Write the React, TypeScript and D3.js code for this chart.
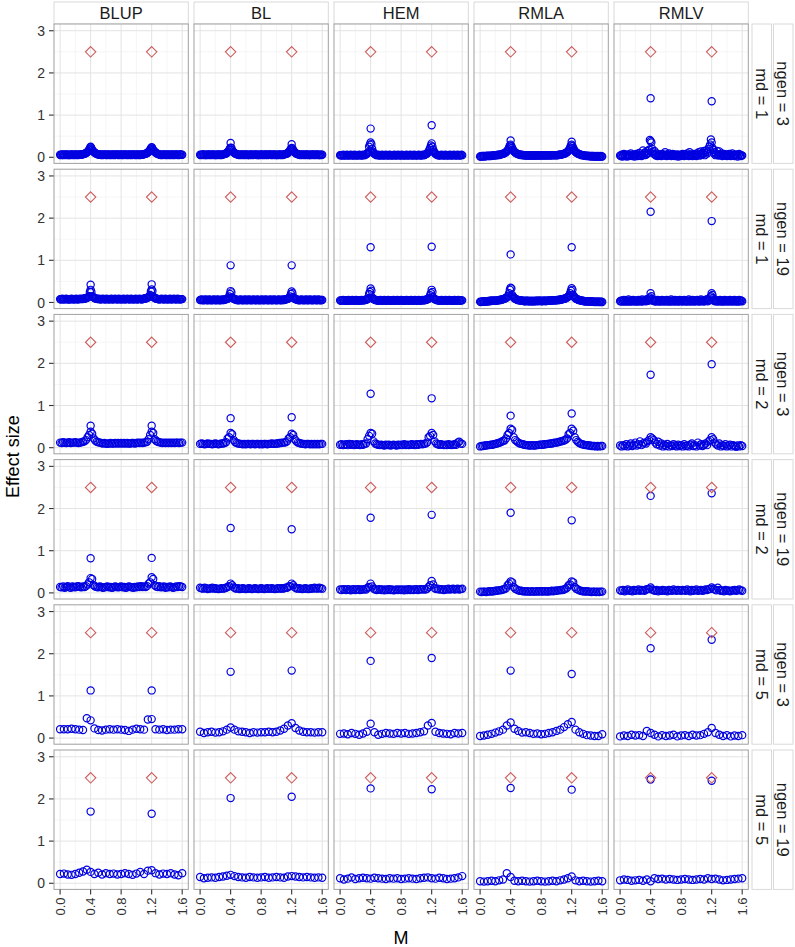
import { scaleBand, scaleLinear } from 'd3'

// marker effect estimates, in hundredths of a unit, one value per marker along M
// ngen = 3, md = 1 (markers every 0.01 M)
const blup_n3_md1 = [
  6, 5, 6, 7, 6, 5, 6, 6, 7, 6, 5, 6, 6, 5, 6, 7, 6, 6, 5, 6,
  6, 7, 6, 5, 6, 6, 7, 6, 6, 7, 7, 8, 8, 9, 10, 11, 13, 15, 18, 21,
  24, 21, 18, 15, 13, 11, 10, 9, 8, 7, 7, 6, 6, 7, 6, 5, 6, 6, 7, 6,
  6, 5, 6, 7, 6, 6, 5, 6, 6, 7, 6, 5, 6, 6, 7, 6, 6, 5, 6, 6,
  7, 6, 5, 6, 6, 7, 6, 6, 5, 6, 6, 7, 6, 5, 6, 6, 7, 6, 6, 5,
  6, 6, 7, 6, 5, 6, 6, 7, 6, 7, 7, 8, 8, 9, 10, 11, 13, 15, 18, 21,
  23, 20, 17, 15, 13, 11, 10, 9, 8, 7, 7, 6, 6, 5, 6, 6, 7, 6, 6, 5,
  6, 7, 6, 6, 5, 6, 6, 7, 6, 5, 6, 6, 7, 6, 6, 5, 6, 7, 6, 6,
  6,
]
const bl_n3_md1 = [
  6, 5, 6, 6, 7, 6, 5, 6, 6, 5, 6, 7, 6, 6, 5, 6, 6, 7, 6, 5,
  6, 6, 5, 6, 7, 6, 6, 5, 6, 6, 7, 7, 8, 8, 9, 10, 12, 14, 17, 20,
  23, 22, 17, 14, 12, 10, 9, 8, 7, 7, 6, 6, 5, 6, 6, 7, 6, 5, 6, 6,
  7, 6, 5, 6, 6, 5, 6, 7, 6, 6, 5, 6, 6, 7, 6, 5, 6, 6, 5, 6,
  7, 6, 6, 5, 6, 6, 7, 6, 5, 6, 6, 7, 6, 6, 5, 6, 6, 7, 6, 5,
  6, 6, 5, 6, 7, 6, 6, 5, 6, 6, 7, 7, 8, 8, 9, 10, 12, 14, 17, 20,
  22, 21, 17, 14, 12, 10, 9, 8, 7, 7, 6, 6, 5, 6, 6, 7, 6, 5, 6, 6,
  7, 6, 5, 6, 6, 5, 6, 7, 6, 6, 5, 6, 6, 7, 6, 5, 6, 6, 5, 6,
  6,
]
const hem_n3_md1 = [
  5, 5, 4, 5, 6, 5, 4, 5, 5, 6, 5, 4, 5, 5, 6, 5, 5, 4, 5, 6,
  5, 5, 4, 5, 5, 6, 5, 5, 4, 5, 6, 5, 5, 6, 7, 8, 10, 12, 25, 30,
  35, 31, 20, 13, 10, 8, 7, 6, 5, 5, 6, 5, 4, 5, 5, 6, 5, 4, 5, 5,
  6, 5, 5, 4, 5, 6, 5, 5, 4, 5, 5, 6, 5, 4, 5, 5, 6, 5, 5, 4,
  5, 6, 5, 5, 4, 5, 5, 6, 5, 4, 5, 5, 6, 5, 5, 4, 5, 6, 5, 5,
  4, 5, 5, 6, 5, 5, 4, 5, 6, 5, 5, 6, 7, 8, 9, 11, 14, 18, 22, 28,
  33, 25, 18, 13, 10, 8, 7, 6, 5, 5, 4, 5, 5, 6, 5, 5, 4, 5, 6, 5,
  5, 4, 5, 5, 6, 5, 4, 5, 5, 6, 5, 5, 4, 5, 6, 5, 5, 4, 5, 6,
  5,
]
const rmla_n3_md1 = [
  2, 2, 3, 2, 3, 3, 2, 3, 3, 3, 4, 3, 3, 4, 3, 4, 4, 4, 5, 4,
  5, 5, 5, 6, 5, 6, 6, 7, 7, 8, 8, 9, 10, 11, 12, 14, 16, 19, 23, 28,
  30, 26, 22, 18, 15, 13, 11, 10, 9, 8, 7, 7, 6, 6, 5, 6, 5, 5, 5, 4,
  5, 4, 5, 4, 4, 5, 4, 4, 5, 4, 4, 5, 4, 4, 5, 4, 5, 4, 5, 5,
  4, 5, 4, 5, 5, 4, 5, 5, 4, 5, 5, 5, 4, 5, 5, 5, 5, 5, 5, 5,
  5, 5, 5, 6, 6, 6, 6, 7, 7, 8, 8, 9, 10, 11, 12, 14, 16, 19, 23, 28,
  30, 26, 22, 18, 15, 13, 11, 10, 9, 8, 7, 7, 6, 5, 5, 5, 4, 4, 4, 3,
  4, 3, 3, 3, 3, 2, 3, 3, 2, 3, 2, 2, 3, 2, 2, 3, 2, 2, 3, 2,
  2,
]
const rmlv_n3_md1 = [
  4, 3, 6, 2, 5, 8, 3, 4, 6, 2, 5, 7, 3, 4, 9, 5, 3, 6, 4, 2,
  5, 8, 4, 3, 6, 10, 4, 5, 3, 7, 16, 9, 5, 12, 6, 8, 15, 10, 18, 41,
  38, 35, 20, 12, 8, 15, 6, 4, 9, 3, 5, 7, 4, 6, 3, 8, 5, 4, 6, 12,
  4, 3, 7, 5, 9, 4, 6, 3, 5, 8, 4, 6, 3, 5, 7, 4, 2, 6, 5, 3,
  6, 4, 8, 5, 3, 7, 4, 6, 9, 5, 3, 12, 6, 4, 7, 3, 5, 8, 4, 6,
  3, 9, 5, 12, 7, 4, 14, 6, 10, 8, 15, 5, 11, 16, 9, 13, 20, 25, 30, 42,
  35, 22, 18, 9, 12, 5, 8, 15, 6, 4, 14, 7, 5, 9, 3, 6, 8, 4, 5, 7,
  3, 6, 4, 8, 5, 3, 6, 9, 4, 5, 3, 7, 4, 6, 2, 5, 8, 4, 3, 5,
  4,
]

// ngen = 19, md = 1
const blup_n19_md1 = [
  8, 7, 8, 9, 8, 7, 8, 8, 9, 8, 7, 8, 8, 7, 8, 9, 8, 8, 7, 8,
  8, 9, 8, 7, 8, 8, 9, 8, 8, 9, 8, 9, 9, 10, 10, 11, 12, 13, 15, 25,
  30, 25, 15, 13, 12, 11, 10, 9, 9, 8, 8, 9, 8, 7, 8, 8, 9, 8, 8, 7,
  8, 9, 8, 8, 7, 8, 8, 9, 8, 7, 8, 8, 9, 8, 8, 7, 8, 9, 8, 8,
  7, 8, 8, 9, 8, 7, 8, 8, 9, 8, 8, 7, 8, 9, 8, 8, 7, 8, 8, 9,
  8, 7, 8, 8, 9, 8, 8, 7, 8, 9, 9, 9, 10, 10, 11, 12, 13, 15, 18, 26,
  31, 27, 14, 12, 11, 10, 9, 9, 8, 8, 7, 8, 8, 9, 8, 8, 7, 8, 9, 8,
  8, 7, 8, 8, 9, 8, 7, 8, 8, 9, 8, 8, 7, 8, 9, 8, 8, 7, 8, 8,
  8,
]
const bl_n19_md1 = [
  6, 6, 7, 6, 5, 6, 6, 7, 6, 6, 5, 6, 7, 6, 6, 5, 6, 6, 7, 6,
  6, 5, 6, 7, 6, 6, 5, 6, 6, 7, 6, 6, 7, 7, 8, 8, 9, 10, 14, 20,
  27, 24, 12, 10, 9, 8, 7, 7, 6, 6, 5, 6, 6, 7, 6, 6, 5, 6, 6, 7,
  6, 5, 6, 6, 7, 6, 6, 5, 6, 6, 7, 6, 6, 5, 6, 7, 6, 6, 5, 6,
  6, 7, 6, 5, 6, 6, 7, 6, 6, 5, 6, 6, 7, 6, 5, 6, 6, 7, 6, 6,
  5, 6, 6, 7, 6, 6, 5, 6, 7, 6, 6, 7, 7, 8, 8, 9, 10, 11, 14, 20,
  26, 22, 13, 10, 9, 8, 7, 7, 6, 6, 5, 6, 6, 7, 6, 6, 5, 6, 6, 7,
  6, 5, 6, 6, 7, 6, 6, 5, 6, 6, 7, 6, 6, 5, 6, 7, 6, 6, 5, 6,
  6,
]
const hem_n19_md1 = [
  5, 4, 5, 5, 6, 5, 4, 5, 5, 4, 5, 6, 5, 4, 5, 5, 6, 5, 4, 5,
  5, 6, 5, 4, 5, 5, 4, 5, 6, 5, 5, 5, 6, 6, 7, 7, 8, 10, 20, 25,
  33, 28, 12, 9, 8, 7, 6, 6, 5, 5, 4, 5, 5, 6, 5, 4, 5, 5, 6, 5,
  4, 5, 5, 6, 5, 4, 5, 5, 4, 5, 6, 5, 4, 5, 5, 6, 5, 4, 5, 5,
  6, 5, 4, 5, 5, 4, 5, 6, 5, 5, 4, 5, 5, 6, 5, 4, 5, 5, 6, 5,
  4, 5, 5, 6, 5, 4, 5, 5, 6, 5, 5, 6, 6, 7, 7, 8, 9, 11, 17, 22,
  30, 25, 12, 9, 8, 7, 6, 6, 5, 5, 4, 5, 5, 6, 5, 4, 5, 5, 6, 5,
  4, 5, 5, 6, 5, 4, 5, 5, 4, 5, 6, 5, 4, 5, 5, 6, 5, 4, 5, 5,
  5,
]
const rmla_n19_md1 = [
  2, 1, 2, 2, 3, 2, 2, 3, 2, 3, 3, 3, 4, 3, 4, 4, 4, 4, 4, 4,
  4, 4, 5, 5, 5, 6, 6, 6, 7, 7, 8, 8, 9, 10, 11, 12, 14, 16, 22, 30,
  35, 33, 18, 14, 12, 10, 9, 8, 7, 6, 6, 5, 5, 5, 4, 4, 4, 4, 3, 3,
  4, 4, 3, 4, 3, 3, 4, 3, 3, 4, 3, 3, 4, 3, 4, 4, 3, 4, 4, 4,
  3, 4, 3, 4, 4, 4, 3, 4, 4, 4, 4, 5, 4, 4, 5, 5, 5, 5, 5, 5,
  5, 6, 6, 6, 6, 7, 7, 7, 8, 8, 9, 9, 10, 11, 12, 13, 15, 17, 22, 28,
  34, 30, 17, 14, 12, 10, 9, 8, 7, 6, 6, 5, 5, 4, 4, 4, 3, 3, 3, 3,
  3, 3, 2, 3, 2, 2, 3, 2, 2, 2, 1, 2, 2, 1, 2, 2, 1, 2, 1, 2,
  1,
]
const rmlv_n19_md1 = [
  3, 4, 2, 5, 3, 6, 2, 4, 3, 5, 2, 7, 3, 4, 2, 5, 3, 6, 4, 2,
  5, 3, 4, 2, 6, 3, 5, 4, 2, 7, 3, 5, 4, 6, 3, 8, 5, 4, 9, 12,
  22, 15, 8, 4, 6, 3, 5, 2, 4, 6, 3, 5, 2, 4, 3, 6, 4, 2, 5, 3,
  4, 6, 2, 5, 3, 4, 2, 7, 3, 5, 4, 2, 6, 3, 4, 5, 2, 3, 6, 4,
  3, 5, 2, 4, 6, 3, 5, 2, 4, 3, 7, 4, 2, 5, 3, 6, 4, 2, 5, 3,
  4, 6, 3, 5, 2, 4, 7, 3, 5, 4, 2, 6, 4, 5, 8, 3, 6, 5, 12, 15,
  22, 18, 10, 5, 3, 6, 4, 2, 5, 3, 4, 6, 2, 5, 3, 4, 2, 6, 3, 5,
  4, 2, 5, 3, 6, 4, 2, 5, 3, 4, 6, 2, 5, 3, 4, 2, 6, 3, 5, 4,
  3,
]

// ngen = 3, md = 2 (markers every 0.02 M)
const blup_n3_md2 = [
  12, 11, 13, 12, 11, 12, 13, 11, 12, 12, 13, 12, 11, 12, 13, 14, 15, 18, 25, 30,
  38, 33, 22, 17, 14, 13, 12, 11, 10, 11, 10, 9, 10, 11, 10, 10, 11, 10, 11, 10,
  11, 10, 11, 10, 11, 10, 10, 11, 11, 10, 11, 12, 11, 12, 11, 12, 13, 14, 20, 30,
  38, 35, 20, 16, 14, 13, 12, 11, 12, 11, 12, 11, 12, 11, 12, 11, 12, 12, 11, 12,
  12,
]
const bl_n3_md2 = [
  9, 10, 9, 8, 9, 10, 9, 9, 8, 9, 10, 9, 8, 9, 10, 10, 11, 13, 22, 25,
  35, 32, 18, 13, 11, 10, 9, 9, 8, 9, 8, 9, 9, 8, 9, 9, 8, 9, 9, 8,
  9, 8, 9, 9, 8, 9, 9, 10, 9, 9, 10, 10, 11, 11, 12, 12, 13, 15, 22, 25,
  33, 30, 20, 15, 12, 11, 10, 9, 9, 8, 9, 9, 8, 9, 8, 9, 8, 9, 8, 9,
  9,
]
const hem_n3_md2 = [
  7, 8, 6, 7, 8, 6, 9, 7, 8, 6, 7, 8, 7, 6, 8, 7, 9, 10, 20, 28,
  35, 33, 15, 10, 8, 7, 6, 7, 6, 5, 7, 6, 7, 5, 6, 7, 6, 5, 7, 6,
  7, 6, 8, 6, 7, 6, 7, 8, 7, 6, 8, 7, 8, 9, 8, 9, 10, 12, 25, 28,
  35, 30, 15, 10, 8, 7, 8, 7, 6, 7, 6, 8, 7, 6, 7, 8, 7, 12, 14, 10,
  9,
]
const rmla_n3_md2 = [
  3, 4, 4, 5, 5, 6, 6, 7, 7, 8, 9, 10, 11, 12, 14, 16, 17, 22, 30, 35,
  45, 42, 25, 18, 15, 12, 10, 9, 8, 7, 6, 6, 5, 5, 6, 5, 5, 6, 6, 7,
  7, 7, 8, 8, 9, 9, 10, 10, 11, 12, 12, 13, 14, 15, 16, 17, 19, 22, 32, 35,
  45, 40, 25, 18, 14, 11, 9, 8, 7, 6, 6, 5, 5, 4, 4, 4, 3, 4, 3, 4,
  4,
]
const rmlv_n3_md2 = [
  5, 3, 6, 4, 8, 3, 5, 10, 4, 7, 12, 5, 8, 15, 6, 10, 12, 10, 15, 18,
  25, 22, 18, 12, 8, 14, 5, 10, 3, 7, 4, 9, 3, 6, 4, 8, 5, 3, 7, 4,
  6, 3, 8, 4, 5, 3, 7, 10, 4, 6, 3, 12, 5, 8, 4, 7, 10, 6, 15, 18,
  25, 20, 12, 8, 5, 10, 3, 6, 4, 8, 3, 5, 7, 3, 6, 4, 2, 5, 3, 6,
  4,
]

// ngen = 19, md = 2
const blup_n19_md2 = [
  14, 13, 15, 12, 14, 16, 13, 12, 15, 14, 13, 15, 16, 14, 13, 15, 14, 16, 20, 25,
  35, 33, 18, 15, 14, 13, 15, 14, 12, 13, 14, 15, 13, 14, 12, 13, 15, 14, 13, 14,
  15, 13, 14, 12, 13, 15, 14, 13, 12, 14, 13, 15, 14, 16, 14, 15, 14, 16, 22, 25,
  37, 33, 18, 15, 14, 16, 13, 14, 15, 12, 14, 13, 15, 14, 12, 13, 15, 14, 16, 15,
  14,
]
const bl_n19_md2 = [
  12, 11, 10, 12, 11, 9, 10, 11, 12, 10, 11, 10, 9, 10, 11, 10, 11, 12, 14, 16,
  22, 18, 13, 11, 10, 11, 9, 10, 11, 10, 9, 10, 11, 10, 9, 10, 11, 10, 9, 10,
  11, 10, 9, 10, 11, 10, 10, 11, 10, 9, 10, 11, 10, 11, 10, 11, 12, 12, 15, 16,
  22, 18, 13, 11, 10, 11, 10, 9, 10, 11, 10, 9, 10, 11, 10, 12, 11, 10, 12, 11,
  10,
]
const hem_n19_md2 = [
  8, 7, 9, 8, 7, 9, 8, 6, 8, 9, 7, 8, 9, 7, 8, 8, 9, 8, 12, 14,
  22, 15, 10, 8, 7, 8, 9, 7, 8, 6, 8, 7, 9, 7, 8, 6, 7, 8, 7, 8,
  7, 8, 6, 8, 7, 9, 7, 8, 7, 8, 9, 7, 8, 9, 8, 9, 8, 10, 14, 18,
  28, 20, 11, 9, 10, 8, 9, 8, 7, 9, 8, 10, 8, 9, 10, 8, 9, 10, 8, 9,
  10,
]
const rmla_n19_md2 = [
  3, 2, 3, 3, 2, 3, 4, 3, 4, 4, 5, 5, 6, 6, 7, 8, 9, 11, 18, 22,
  27, 25, 14, 10, 8, 6, 5, 5, 4, 4, 3, 4, 3, 3, 4, 3, 3, 4, 3, 4,
  4, 3, 4, 4, 3, 4, 4, 5, 4, 5, 5, 6, 6, 7, 7, 8, 10, 12, 18, 20,
  27, 25, 14, 10, 8, 6, 5, 4, 4, 3, 4, 3, 3, 2, 3, 3, 2, 3, 2, 3,
  3,
]
const rmlv_n19_md2 = [
  6, 5, 7, 4, 6, 8, 5, 6, 4, 7, 5, 6, 8, 5, 7, 6, 5, 8, 9, 9,
  13, 8, 6, 5, 7, 4, 6, 5, 7, 5, 6, 4, 7, 6, 5, 8, 6, 5, 7, 6,
  5, 7, 6, 5, 8, 6, 4, 7, 5, 6, 8, 5, 6, 7, 5, 6, 8, 7, 9, 9,
  13, 10, 8, 6, 12, 7, 5, 6, 4, 7, 5, 6, 4, 5, 6, 7, 5, 6, 8, 6,
  5,
]

// ngen = 3, md = 5 (markers every 0.05 M)
const blup_n3_md5 = [21, 21, 21, 22, 21, 20, 19, 47, 42, 23, 19, 18, 20, 21, 20, 21, 20, 19, 17, 20, 22, 21, 20, 44, 45, 21, 20, 21, 19, 20, 20, 21, 21]
const bl_n3_md5 = [15, 12, 14, 15, 13, 14, 16, 20, 25, 20, 16, 15, 14, 12, 14, 13, 14, 14, 15, 14, 15, 18, 22, 30, 35, 24, 18, 15, 14, 14, 13, 14, 14]
const hem_n3_md5 = [10, 11, 9, 12, 10, 8, 11, 15, 34, 14, 8, 10, 12, 11, 10, 12, 11, 12, 10, 11, 12, 14, 16, 30, 36, 15, 12, 11, 10, 9, 12, 11, 12]
const rmla_n3_md5 = [5, 6, 8, 10, 13, 16, 20, 30, 37, 22, 17, 13, 14, 12, 10, 11, 9, 10, 12, 14, 17, 20, 26, 33, 38, 20, 14, 10, 7, 6, 5, 5, 9]
const rmlv_n3_md5 = [4, 6, 5, 8, 6, 7, 5, 17, 12, 8, 4, 7, 5, 6, 8, 4, 6, 7, 5, 8, 6, 7, 10, 14, 24, 12, 8, 5, 7, 4, 6, 5, 7]

// ngen = 19, md = 5
const blup_n19_md5 = [22, 23, 21, 20, 22, 25, 28, 32, 27, 22, 25, 21, 24, 22, 23, 21, 22, 24, 22, 20, 23, 27, 22, 30, 31, 24, 21, 23, 22, 24, 21, 19, 24]
const bl_n19_md5 = [15, 12, 13, 14, 13, 15, 16, 18, 20, 17, 15, 14, 13, 15, 14, 13, 14, 15, 13, 14, 15, 14, 13, 16, 17, 16, 15, 14, 15, 14, 13, 14, 13]
const hem_n19_md5 = [12, 9, 11, 14, 10, 12, 13, 12, 11, 13, 12, 11, 10, 12, 11, 12, 10, 11, 12, 11, 10, 12, 13, 14, 12, 11, 13, 12, 10, 11, 12, 14, 17]
const rmla_n19_md5 = [5, 4, 5, 6, 5, 7, 9, 24, 15, 6, 5, 6, 5, 4, 5, 6, 5, 4, 5, 6, 5, 7, 9, 12, 16, 7, 5, 6, 5, 4, 5, 6, 5]
const rmlv_n19_md5 = [7, 9, 8, 6, 7, 8, 6, 9, 5, 12, 10, 11, 9, 10, 9, 8, 9, 10, 9, 8, 9, 10, 9, 12, 10, 11, 9, 7, 8, 9, 10, 11, 12]

// estimated QTL effects [QTL at 0.4, QTL at 1.2] per method (BLUP, BL, HEM, RMLA, RMLV)
const qtl_n3_md1 = [[0.25, 0.24], [0.34, 0.31], [0.68, 0.76], [0.4, 0.37], [1.4, 1.33]]
const qtl_n19_md1 = [[0.42, 0.43], [0.88, 0.88], [1.31, 1.32], [1.14, 1.31], [2.15, 1.93]]
const qtl_n3_md2 = [[0.52, 0.52], [0.7, 0.72], [1.28, 1.17], [0.76, 0.81], [1.73, 1.98]]
const qtl_n19_md2 = [[0.82, 0.83], [1.54, 1.51], [1.78, 1.85], [1.9, 1.72], [2.3, 2.36]]
const qtl_n3_md5 = [[1.13, 1.13], [1.57, 1.6], [1.83, 1.9], [1.6, 1.52], [2.13, 2.33]]
const qtl_n19_md5 = [[1.7, 1.65], [2.02, 2.05], [2.25, 2.23], [2.26, 2.22], [2.46, 2.43]]

const methods = ['BLUP', 'BL', 'HEM', 'RMLA', 'RMLV']
const rowNgen = [3, 19, 3, 19, 3, 19]
const rowMd = [1, 1, 2, 2, 5, 5]
const qtlPos = [0.4, 1.2]
const qtlTrue = [2.5, 2.5]
const xTicks = [0, 0.4, 0.8, 1.2, 1.6]
const xMinor = [0.2, 0.6, 1.0, 1.4]
const yTicks = [0, 1, 2, 3]
const yMinor = [0.5, 1.5, 2.5]

const markerRows = [
  [blup_n3_md1, bl_n3_md1, hem_n3_md1, rmla_n3_md1, rmlv_n3_md1],
  [blup_n19_md1, bl_n19_md1, hem_n19_md1, rmla_n19_md1, rmlv_n19_md1],
  [blup_n3_md2, bl_n3_md2, hem_n3_md2, rmla_n3_md2, rmlv_n3_md2],
  [blup_n19_md2, bl_n19_md2, hem_n19_md2, rmla_n19_md2, rmlv_n19_md2],
  [blup_n3_md5, bl_n3_md5, hem_n3_md5, rmla_n3_md5, rmlv_n3_md5],
  [blup_n19_md5, bl_n19_md5, hem_n19_md5, rmla_n19_md5, rmlv_n19_md5],
]
const qtlRows = [qtl_n3_md1, qtl_n19_md1, qtl_n3_md2, qtl_n19_md2, qtl_n3_md5, qtl_n19_md5]

const FONT = 'Liberation Sans, Arial, Helvetica, sans-serif'
const BLUE = '#0000e0'

export default function App() {
  const rowIdx = rowNgen.map((_, i) => i)
  const col = scaleBand<string>().domain(methods).range([54, 748.3]).paddingInner(0.0407)
  const row = scaleBand<number>().domain(rowIdx).range([24, 889.4]).paddingInner(0.04)
  const bw = col.bandwidth()
  const bh = row.bandwidth()
  const x = scaleLinear().domain([-0.08, 1.68]).range([0, bw])
  const y = scaleLinear().domain([-0.145, 3.16]).range([bh, 0])
  const lastRow = row(rowIdx[rowIdx.length - 1])! + bh
  const stripX = 752
  const stripW = 19.5

  return (
    <svg width={795} height={947} style={{ position: 'absolute', left: 0, top: 0, background: '#fff' }} fontFamily={FONT}>
      {/* top strips */}
      {methods.map((m) => (
        <g key={m} transform={`translate(${col(m)},2)`}>
          <rect width={bw} height={22} fill="#fff" stroke="#d9d9d9" />
          <text x={bw / 2} y={17.3} textAnchor="middle" fontSize={16.5} fill="#1a1a1a">
            {m}
          </text>
        </g>
      ))}

      {rowIdx.map((ri) => (
        <g key={ri} transform={`translate(0,${row(ri)})`}>
          {/* right strips */}
          <rect x={stripX} width={stripW} height={bh} fill="#fff" stroke="#d9d9d9" />
          <text transform={`translate(${stripX + stripW / 2 - 5.8},${bh / 2}) rotate(90)`} textAnchor="middle" fontSize={16.5} fill="#1a1a1a">
            {`md = ${rowMd[ri]}`}
          </text>
          <rect x={stripX + stripW + 2} width={stripW} height={bh} fill="#fff" stroke="#d9d9d9" />
          <text transform={`translate(${stripX + stripW * 1.5 + 2 - 5.8},${bh / 2}) rotate(90)`} textAnchor="middle" fontSize={16.5} fill="#1a1a1a">
            {`ngen = ${rowNgen[ri]}`}
          </text>

          {/* y axis */}
          {yTicks.map((t) => (
            <g key={t} transform={`translate(54,${y(t)})`}>
              <line x1={-5} x2={0} stroke="#333" strokeWidth={1.1} />
              <text x={-9} dy="0.36em" textAnchor="end" fontSize={14} fill="#333">
                {t}
              </text>
            </g>
          ))}

          {methods.map((m, mi) => {
            const md = rowMd[ri]
            const vals = markerRows[ri][mi]
            const est = qtlRows[ri][mi]
            return (
              <g key={m} transform={`translate(${col(m)},0)`}>
                <rect width={bw} height={bh} fill="#fff" />
                {xMinor.map((t) => (
                  <line key={'xm' + t} x1={x(t)} x2={x(t)} y2={bh} stroke="#f2f2f2" strokeWidth={0.7} />
                ))}
                {yMinor.map((t) => (
                  <line key={'ym' + t} y1={y(t)} y2={y(t)} x2={bw} stroke="#f2f2f2" strokeWidth={0.7} />
                ))}
                {xTicks.map((t) => (
                  <line key={'xM' + t} x1={x(t)} x2={x(t)} y2={bh} stroke="#e3e3e3" strokeWidth={1} />
                ))}
                {yTicks.map((t) => (
                  <line key={'yM' + t} y1={y(t)} y2={y(t)} x2={bw} stroke="#e3e3e3" strokeWidth={1} />
                ))}
                {vals.map((v, i) => (
                  <circle key={'p' + i} cx={x((i * md) / 100)} cy={y(v / 100)} r={3.6} fill="none" stroke={BLUE} strokeWidth={1.2} />
                ))}
                {est.map((v, i) => (
                  <circle key={'q' + i} cx={x(qtlPos[i])} cy={y(v)} r={3.6} fill="none" stroke={BLUE} strokeWidth={1.2} />
                ))}
                {qtlTrue.map((v, i) => (
                  <path
                    key={'t' + i}
                    transform={`translate(${x(qtlPos[i])},${y(v)})`}
                    d="M0,-5.2L5.2,0L0,5.2L-5.2,0Z"
                    fill="none"
                    stroke="#cd5c5c"
                    strokeWidth={1.1}
                  />
                ))}
                <rect width={bw} height={bh} fill="none" stroke="#a0a0a0" strokeWidth={1} />
              </g>
            )
          })}
        </g>
      ))}

      {/* x axis under the bottom row */}
      {methods.map((m) => (
        <g key={m} transform={`translate(${col(m)},${lastRow})`}>
          {xTicks.map((t) => (
            <g key={t} transform={`translate(${x(t)},0)`}>
              <line y2={5} stroke="#333" strokeWidth={1.1} />
              <text transform="translate(0,8) rotate(-90)" dy="0.36em" textAnchor="end" fontSize={13} fill="#333">
                {t.toFixed(1)}
              </text>
            </g>
          ))}
        </g>
      ))}

      <text x={401} y={944} textAnchor="middle" fontSize={18} fill="#000">
        M
      </text>
      <text transform={`translate(19,${(24 + lastRow) / 2}) rotate(-90)`} textAnchor="middle" fontSize={18} fill="#000">
        Effect size
      </text>
    </svg>
  )
}
